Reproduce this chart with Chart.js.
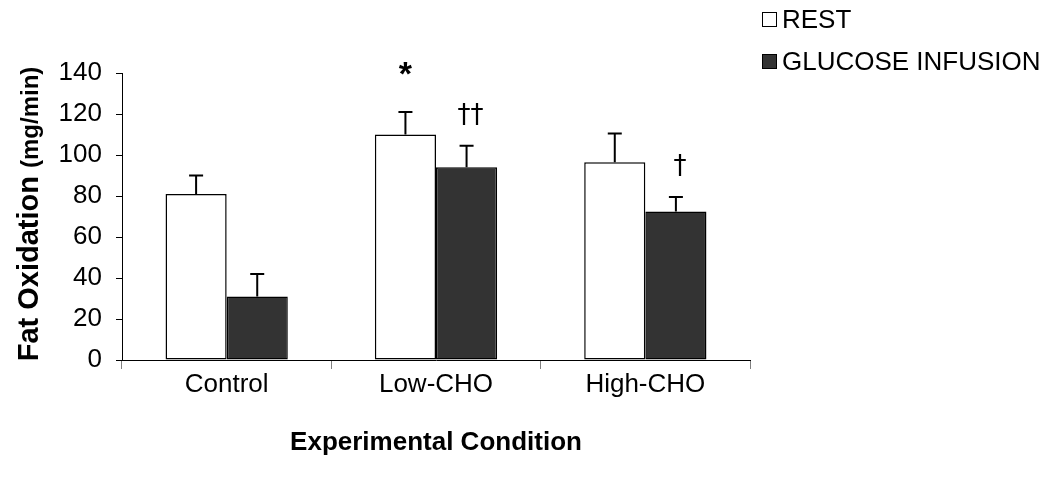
<!DOCTYPE html>
<html>
<head>
<meta charset="utf-8">
<script src="https://cdn.jsdelivr.net/npm/chart.js@4.4.1/dist/chart.umd.min.js"></script>
<style>
    html, body { margin: 0; padding: 0; background: #fff; }
    #wrap { width: 1051px; height: 491px; }
</style>
</head>
<body>
<div id="wrap"><canvas id="fatChart" width="1051" height="491"></canvas></div>
<script>
// data
const conditions = ['Control', 'Low-CHO', 'High-CHO'];
const restValues = [81, 110, 96.5];
const restErrors = [9, 11, 14];
const glucoseValues = [31, 94, 72.5];
const glucoseErrors = [11, 10.5, 7];
const restMarks = ['', '*', ''];
const glucoseMarks = ['', '\u2020\u2020', '\u2020'];
const yMin = 0, yMax = 140, yStep = 20;

const FONT = '"Liberation Sans", Arial, Helvetica, sans-serif';

// error bars + significance marks
const errorBarPlugin = {
    id: 'errorBars',
    afterDatasetsDraw(chart) {
        const ctx = chart.ctx;
        const yScale = chart.scales.y;
        chart.data.datasets.forEach(function (ds, i) {
            const meta = chart.getDatasetMeta(i);
            meta.data.forEach(function (bar, j) {
                const top = yScale.getPixelForValue(ds.data[j] + ds.errors[j]);
                const base = yScale.getPixelForValue(ds.data[j]);
                ctx.save();
                ctx.strokeStyle = '#000';
                ctx.lineWidth = 2;
                ctx.beginPath();
                ctx.moveTo(bar.x, base);
                ctx.lineTo(bar.x, top);
                ctx.moveTo(bar.x - 7, top);
                ctx.lineTo(bar.x + 7, top);
                ctx.stroke();
                let mark = ds.marks[j];
                if (mark) {
                    ctx.fillStyle = '#000';
                    ctx.textAlign = 'center';
                    ctx.textBaseline = 'middle';
                    if (mark === '*') {
                        ctx.font = 'bold 34px ' + FONT;
                        ctx.fillText(mark, bar.x, top - 36);
                    } else {
                        ctx.font = '26px "DejaVu Sans", ' + FONT;
                        ctx.fillText(mark, bar.x + 4, top - 30);
                    }
                }
                ctx.restore();
            });
        });
    }
};

// legend top right and y-axis title with mixed sizes
const textPlugin = {
    id: 'extraText',
    afterDraw(chart) {
        const ctx = chart.ctx;
        ctx.save();
        chart.data.datasets.forEach(function (ds, i) {
            const cy = 20 + i * 42;
            ctx.fillStyle = ds.backgroundColor;
            ctx.strokeStyle = '#000';
            ctx.lineWidth = 1;
            ctx.fillRect(762.5, cy - 7.5, 14, 14);
            ctx.strokeRect(762.5, cy - 7.5, 14, 14);
            ctx.fillStyle = '#000';
            ctx.font = '26px ' + FONT;
            ctx.textAlign = 'left';
            ctx.textBaseline = 'middle';
            ctx.fillText(ds.label, 782, cy + 1);
        });

        const big = 'Fat Oxidation ';
        const small = '(mg/min)';
        ctx.translate(38, 214);
        ctx.rotate(-Math.PI / 2);
        ctx.textBaseline = 'alphabetic';
        ctx.textAlign = 'left';
        ctx.font = 'bold 29px ' + FONT;
        const w1 = ctx.measureText(big).width;
        ctx.font = 'bold 24px ' + FONT;
        const w2 = ctx.measureText(small).width;
        const start = -(w1 + w2) / 2;
        ctx.font = 'bold 29px ' + FONT;
        ctx.fillText(big, start, 0);
        ctx.font = 'bold 24px ' + FONT;
        ctx.fillText(small, start + w1, 0);
        ctx.restore();
    }
};

new Chart(document.getElementById('fatChart').getContext('2d'), {
    type: 'bar',
    data: {
        labels: conditions,
        datasets: [
            {
                label: 'REST',
                data: restValues,
                errors: restErrors,
                marks: restMarks,
                backgroundColor: '#ffffff',
                borderColor: '#000000',
                borderWidth: 1.5,
                borderSkipped: false,
                barPercentage: 1,
                categoryPercentage: 0.584
            },
            {
                label: 'GLUCOSE INFUSION',
                data: glucoseValues,
                errors: glucoseErrors,
                marks: glucoseMarks,
                backgroundColor: '#333333',
                borderColor: '#000000',
                borderWidth: 1.5,
                borderSkipped: false,
                barPercentage: 1,
                categoryPercentage: 0.584
            }
        ]
    },
    options: {
        responsive: false,
        animation: false,
        devicePixelRatio: 1,
        layout: { padding: { left: 0, right: 301, top: 73, bottom: 0 } },
        plugins: {
            legend: { display: false },
            tooltip: { enabled: false }
        },
        scales: {
            x: {
                afterFit: function (scale) { scale.height = 131; },
                grid: {
                    offset: true,
                    drawOnChartArea: false,
                    drawTicks: true,
                    tickLength: 9,
                    color: '#808080'
                },
                border: { display: true, color: '#000', width: 1 },
                ticks: {
                    color: '#000',
                    padding: 0,
                    font: { family: FONT, size: 26 }
                },
                title: {
                    display: true,
                    text: 'Experimental Condition',
                    color: '#000',
                    font: { family: FONT, size: 26, weight: 'bold' },
                    padding: { top: 0, bottom: 33 }
                }
            },
            y: {
                min: yMin,
                max: yMax,
                afterFit: function (scale) { scale.width = 122; },
                grid: {
                    drawOnChartArea: false,
                    drawTicks: true,
                    tickLength: 6,
                    color: '#000'
                },
                border: { display: true, color: '#000', width: 1 },
                ticks: {
                    stepSize: yStep,
                    color: '#000',
                    padding: 14,
                    font: { family: FONT, size: 26 }
                }
            }
        }
    },
    plugins: [errorBarPlugin, textPlugin]
});
</script>
</body>
</html>
